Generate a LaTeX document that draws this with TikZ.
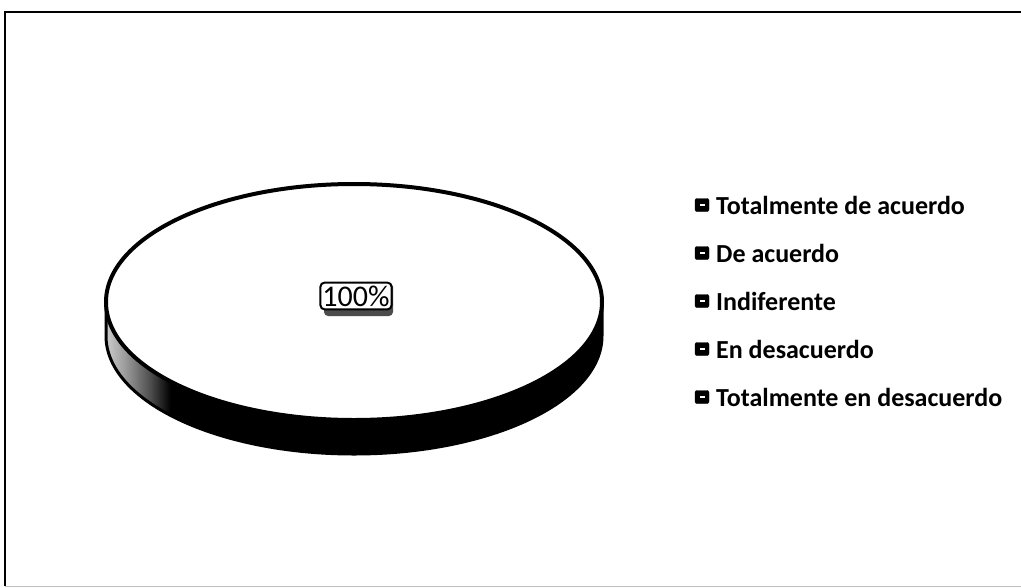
\documentclass[tikz,border=0pt]{standalone}
\usepackage{fontspec}
\setmainfont{Carlito}
\usetikzlibrary{calc}
\begin{document}
% the path is mapped onto the 25bp..75bp band of the shading
\pgfdeclarehorizontalshading{sideshade}{100bp}{%
  color(0bp)=(black!20); color(25bp)=(black!20); color(27bp)=(black!40);
  color(29.5bp)=(black!70); color(31.5bp)=(black); color(100bp)=(black)}
\begin{tikzpicture}[x=1pt,y=-1pt,
  legendbox/.style={fill=black,draw=black,rounded corners=2pt,minimum width=14pt,minimum height=13pt,inner sep=0pt},
  legendtext/.style={anchor=west,font=\bfseries\fontsize{26}{30}\selectfont,inner sep=0pt},
  pctlabel/.style={draw=black,line width=2pt,fill=white,rounded corners=4pt,
    font=\fontsize{30}{32}\selectfont,inner xsep=2pt,inner ysep=3pt}]
  \useasboundingbox (0,0) rectangle (1021,587);
  % chart frame
  \draw[line width=2pt] (5,586) -- (5,12) -- (1021,12);
  \draw[black!25,line width=1pt] (5,586) -- (1021,586);
  % cylinder geometry
  \def\cx{354}\def\cy{302}\def\rx{248}\def\ry{118}\def\dep{34}
  % side wall
  \shade[shading=sideshade]
    (\cx-\rx,\cy) -- (\cx-\rx,\cy+\dep)
    arc[start angle=180,end angle=360,x radius=\rx,y radius=-\ry]
    -- (\cx+\rx,\cy)
    arc[start angle=360,end angle=180,x radius=\rx,y radius=-\ry] -- cycle;
  \draw[line width=3pt]
    (\cx-\rx,\cy) -- (\cx-\rx,\cy+\dep)
    arc[start angle=180,end angle=360,x radius=\rx,y radius=-\ry]
    -- (\cx+\rx,\cy);
  % top face
  \draw[line width=4pt,fill=white] (\cx,\cy) ellipse[x radius=\rx,y radius=\ry];
  % data label with a soft lower shadow
  \fill[black!70,rounded corners=4pt] (324,283) rectangle (393,316);
  \node[pctlabel] (pct) at (356,296) {100\%};
  % legend
  \foreach \i/\t in {0/Totalmente de acuerdo,1/De acuerdo,2/Indiferente,3/En desacuerdo,4/Totalmente en desacuerdo}{
    \node[legendbox] (m\i) at (702,{205+48*\i}) {};
    \fill[white] ($(m\i.center)+(-2.5,-1.2)$) rectangle ($(m\i.center)+(2.5,1.2)$);
    \node[legendtext] (t\i) at (716,{205+48*\i}) {\t};
  }
\end{tikzpicture}
\end{document}
